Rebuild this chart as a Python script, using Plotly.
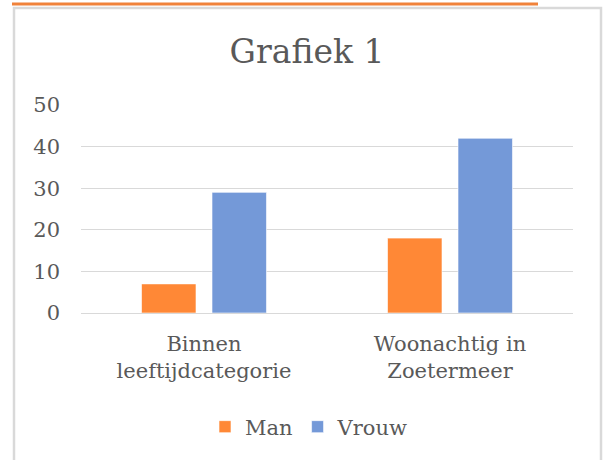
import plotly.graph_objects as go

categories = ["Binnen<br>leeftijdcategorie", "Woonachtig in<br>Zoetermeer"]
man = [7, 18]
vrouw = [29, 42]
series_names = ["Man", "Vrouw"]
y_ticks = [0, 10, 20, 30, 40, 50]

W, H = 607, 460
L, R, T, B = 81, 573, 105, 313  # plot area in pixels

def px_x(p):
    return (p - L) / (R - L)

def px_y(p):
    return (B - p) / (B - T)

FONT = "DejaVu Serif"
TXT = "#595959"
GRID = "#D9D9D9"

fig = go.Figure()
fig.add_trace(go.Bar(x=categories, y=man, name=series_names[0],
                     marker=dict(color="#FF8836", line=dict(color="rgba(255,255,255,0.6)", width=1))))
fig.add_trace(go.Bar(x=categories, y=vrouw, name=series_names[1],
                     marker=dict(color="#7499D8", line=dict(color="rgba(255,255,255,0.6)", width=1))))

fig.update_layout(
    width=W, height=H,
    margin=dict(l=L, r=W - R, t=T, b=H - B, pad=0),
    paper_bgcolor="white", plot_bgcolor="white",
    barmode="group", bargap=0.427, bargroupgap=0.227,
    font=dict(family=FONT, color=TXT, size=21),
    title=dict(text="Grafiek 1", font=dict(family=FONT, size=33, color=TXT),
               x=307 / W, xanchor="center", y=1 - 51 / H, yanchor="middle"),
    legend=dict(orientation="h", x=px_x(309), xanchor="center", y=px_y(427), yanchor="middle",
                font=dict(family=FONT, size=21, color=TXT), itemwidth=30,
                bgcolor="rgba(0,0,0,0)"),
    xaxis=dict(showgrid=False, showline=False, ticks="", ticklabelstandoff=16,
               tickfont=dict(family=FONT, size=21, color=TXT)),
    yaxis=dict(range=[0, 50], tickvals=y_ticks, showgrid=True, gridcolor=GRID, gridwidth=1.3,
               zeroline=True, zerolinecolor=GRID, zerolinewidth=1.3, showline=False,
               ticks="", ticklabelstandoff=20, tickfont=dict(family=FONT, size=21, color=TXT)),
    shapes=[
        dict(type="rect", xref="paper", yref="paper",
             x0=px_x(14), x1=px_x(601), y0=px_y(8), y1=px_y(475),
             line=dict(color=GRID, width=2.5), fillcolor="rgba(0,0,0,0)", layer="below"),
        dict(type="line", xref="paper", yref="paper",
             x0=px_x(12), x1=px_x(538), y0=px_y(4), y1=px_y(4),
             line=dict(color="#F0823A", width=3)),
    ],
)

# remove the browser's default page margin so the figure sits at the window's corner
fig.write_html("out.html", config={"displayModeBar": False},
               post_script="document.body.style.margin='0';")
